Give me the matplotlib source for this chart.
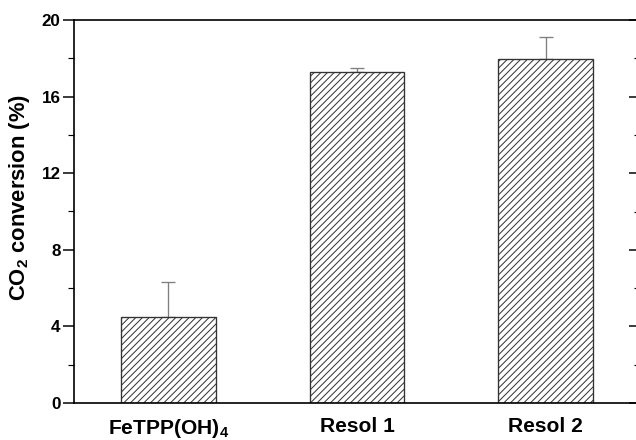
import numpy as np
import matplotlib
matplotlib.use('Agg')
import matplotlib.pyplot as plt

plt.rcParams['font.family'] = 'Liberation Sans'
plt.rcParams['font.weight'] = 'bold'
plt.rcParams['mathtext.fontset'] = 'custom'
plt.rcParams['mathtext.rm'] = 'Liberation Sans:bold'
plt.rcParams['mathtext.bf'] = 'Liberation Sans:bold'
plt.rcParams['mathtext.default'] = 'bf'
plt.rcParams['hatch.linewidth'] = 0.6
plt.rcParams['hatch.color'] = '#333333'

# data
labels = ['FeTPP(OH)$_4$', 'Resol 1', 'Resol 2']
conversion = [4.5, 17.3, 17.95]
err_up = [1.8, 0.2, 1.15]
yticks = [0, 4, 8, 12, 16, 20]

dpi = 120
fig = plt.figure(figsize=(636 / dpi, 440 / dpi), dpi=dpi)
ax = fig.add_axes([74 / 636, 1 - 403 / 440, 566 / 636, 383 / 440])

x = np.arange(len(labels))
ax.bar(x, conversion, width=0.5, color='white', edgecolor='#333333',
       linewidth=0.8, hatch='//////', zorder=2)
ax.errorbar(x, conversion, yerr=[np.zeros(len(x)), err_up], fmt='none',
            ecolor='#808080', elinewidth=0.8, capsize=4.2, capthick=0.8, zorder=1)

ax.set_xlim(-0.5, 2.5)
ax.set_ylim(0, 20)
ax.set_yticks(yticks)
ax.set_yticks(np.arange(2, 20, 4), minor=True)
ax.set_xticks(x)
ax.set_xticklabels(labels, fontsize=12.6, fontweight='bold')
ax.tick_params(axis='x', length=0, pad=8.5)
ax.tick_params(axis='y', which='major', direction='out', length=6.5, width=0.9,
               labelsize=10.2, pad=1.5)
ax.tick_params(axis='y', which='minor', direction='out', length=3.5, width=0.7)
ax.set_ylabel('CO$_2$ conversion (%)', fontsize=13.2, fontweight='bold')
ax.yaxis.set_label_coords(-0.074, 0.537)

for s in ['left', 'bottom', 'top']:
    ax.spines[s].set_linewidth(1.0)
ax.spines['right'].set_visible(False)

# inward ticks on the right side (spine itself falls outside the crop)
ax2 = ax.twinx()
ax2.set_ylim(0, 20)
ax2.set_yticks(yticks)
ax2.set_yticks(np.arange(2, 20, 4), minor=True)
ax2.tick_params(axis='y', which='major', direction='in', length=6.5, width=0.9,
                labelright=False)
ax2.tick_params(axis='y', which='minor', direction='in', length=3.5, width=0.7)
for s in ax2.spines.values():
    s.set_visible(False)

fig.savefig('out.png', dpi=dpi)
